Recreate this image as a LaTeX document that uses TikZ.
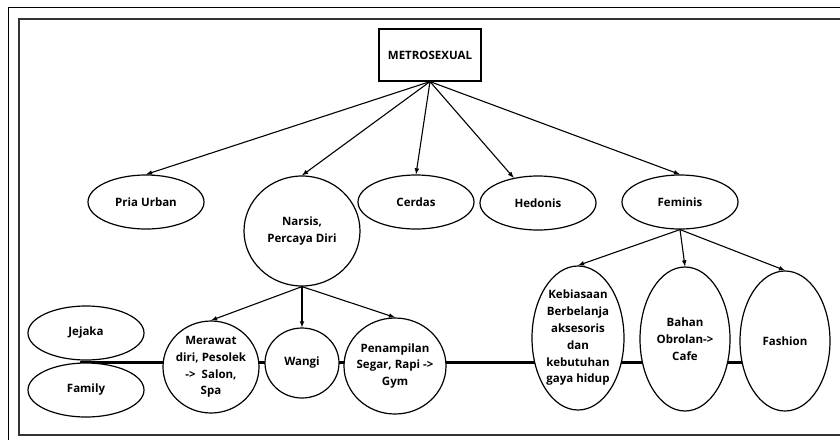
\documentclass[tikz,border=0pt]{standalone}
\usepackage{fontspec}
\setmainfont{Open Sans}
\usetikzlibrary{arrows,
		backgrounds,
		shapes.geometric}

\tikzset{
  oval/.style={ellipse, draw, line width=1.2pt, fill=white, inner sep=0pt, align=center},
  conn/.style={-latex, line width=1.1pt},
}

\begin{document}
\begin{tikzpicture}[x=1pt, y=-1pt, font=\fontsize{11.5}{16.8}\selectfont\bfseries]
\useasboundingbox (0,0) rectangle (840,440);

% frames
\draw [line width=1pt] (840,7) -- (8,7) -- (8,440);
\draw [line width=2pt, black!80] (840,19) -- (19,19) -- (19,435) -- (840,435);

\node [draw, line width=1.2pt, minimum width=102pt, minimum height=52pt] (metro) at (430,55) {METROSEXUAL};

\node [oval, minimum width=116pt, minimum height=54pt] (urban) at (146,202) {Pria Urban};
\node [oval, minimum width=116pt, minimum height=110pt] (narsis) at (302,231) {Narsis,\\Percaya Diri};
\node [oval, minimum width=116pt, minimum height=54pt] (cerdas) at (416,202) {Cerdas};
\node [oval, minimum width=116pt, minimum height=54pt] (hedonis) at (538,203) {Hedonis};
\node [oval, minimum width=116pt, minimum height=54pt] (feminis) at (680,202) {Feminis};

\node [oval, minimum width=116pt, minimum height=54pt] (jejaka) at (86,333) {Jejaka};
\node [oval, minimum width=116pt, minimum height=54pt] (family) at (86,390) {Family};
\coordinate (joint) at (80,362);

\node [oval, minimum width=96pt, minimum height=92pt, inner xsep=-3pt] (merawat) at (211,367) {Merawat\\diri, Pesolek\\-> ~Salon,\\Spa};
\node [oval, minimum width=74pt, minimum height=70pt] (wangi) at (302,363) {Wangi};
\node [oval, minimum width=102pt, minimum height=96pt, inner xsep=-4pt] (penampilan) at (395,366) {Penampilan\\Segar, Rapi ->\\Gym};

\node [oval, minimum width=92pt, minimum height=144pt, inner xsep=-6pt] (kebiasaan) at (578,338) {Kebiasaan\\Berbelanja\\aksesoris\\dan\\kebutuhan\\gaya hidup};
\node [oval, minimum width=90pt, minimum height=144pt] (bahan) at (685,339) {Bahan\\Obrolan->\\Cafe};
\node [oval, minimum width=90pt, minimum height=140pt] (fashion) at (785,341) {Fashion};

\begin{pgfonlayer}{background}
\draw [line width=3pt] (joint) -- (joint -| fashion.center);
\end{pgfonlayer}

\draw [conn] (metro.south) -- (urban.north);
\draw [conn] (metro.south) -- (narsis.north);
\draw [conn] (metro.south) -- (cerdas.north);
\draw [conn] (metro.south) -- (hedonis.134);
\draw [conn] (metro.south) -- (feminis.north);

\draw [conn] (narsis.south) -- (merawat.north);
\draw [conn] (narsis.south) -- (wangi.north);
\draw [conn] (narsis.south) -- (penampilan.north);

\draw [conn] (feminis.south) -- (kebiasaan.north);
\draw [conn] (feminis.south) -- (bahan.north);
\draw [conn] (feminis.south) -- (fashion.north);

\end{tikzpicture}
\end{document}
